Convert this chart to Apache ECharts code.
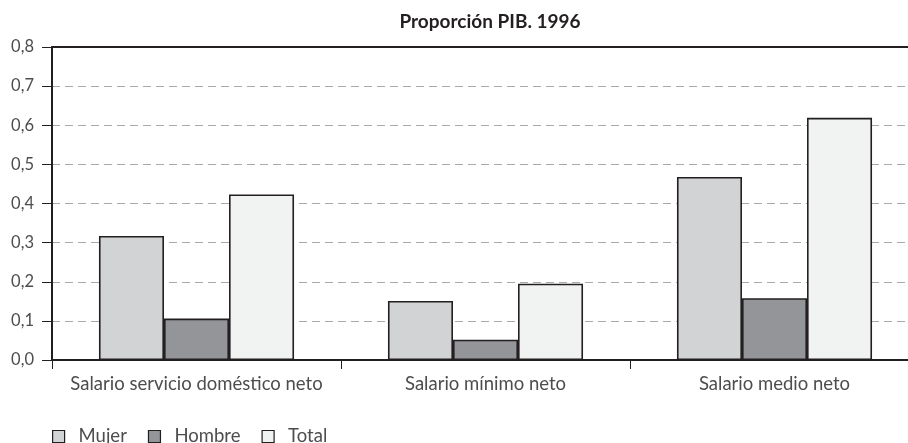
<!DOCTYPE html>
<html>
<head>
<meta charset="utf-8">
<script src="https://cdn.jsdelivr.net/npm/echarts@6/dist/echarts.min.js"></script>
<style>
  html, body { margin: 0; padding: 0; background: #fff; }
  #chart { width: 908px; height: 443px; }
</style>
</head>
<body>
<div id="chart"></div>
<script>
// Proporción del PIB per cápita, 1996
const categories = ['Salario servicio doméstico neto', 'Salario mínimo neto', 'Salario medio neto'];
const mujer  = [0.317, 0.151, 0.468];
const hombre = [0.106, 0.052, 0.158];
const total  = [0.423, 0.195, 0.619];
const yTicks = [0, 0.1, 0.2, 0.3, 0.4, 0.5, 0.6, 0.7, 0.8];

const FONT = 'Lato';
const INK = '#231f20';
const chart = echarts.init(document.getElementById('chart'), null, { renderer: 'canvas' });

function barSeries(name, data, color) {
  return {
    name: name,
    type: 'bar',
    data: data,
    barGap: '0%',
    barCategoryGap: '32.5%',
    itemStyle: { color: color, borderColor: INK, borderWidth: 1.6 },
    emphasis: { disabled: true }
  };
}

chart.setOption({
  animation: false,
  title: {
    text: 'Proporción PIB. 1996',
    left: 485, top: 7, textAlign: 'center',
    textStyle: { fontFamily: FONT, fontSize: 19, fontWeight: 'bold', color: INK }
  },
  grid: { left: 52, width: 867, top: 47, bottom: 83, outerBoundsMode: 'none' },
  legend: {
    left: 47, top: 422,
    itemWidth: 12, itemHeight: 12, itemGap: 21,
    icon: 'rect',
    itemStyle: { borderColor: INK, borderWidth: 1.2 },
    textStyle: { fontFamily: FONT, fontSize: 18.5, color: '#4d4d4f', padding: [0, 0, 0, 9] },
    data: ['Mujer', 'Hombre', 'Total']
  },
  xAxis: [
    {
      type: 'category',
      data: categories,
      axisLine: { lineStyle: { color: INK, width: 2 } },
      axisTick: { show: true, length: 9, lineStyle: { color: INK, width: 1 } },
      axisLabel: { interval: 0, fontFamily: FONT, fontSize: 18.5, color: '#4d4d4f', margin: 15 }
    },
    {
      // top frame line of the plot
      type: 'category',
      position: 'top',
      data: categories,
      axisLine: { show: true, lineStyle: { color: INK, width: 2 } },
      axisTick: { show: false },
      axisLabel: { show: false },
      z: 5
    }
  ],
  yAxis: {
    type: 'value',
    min: yTicks[0], max: yTicks[yTicks.length - 1], interval: 0.1,
    axisLine: { show: true, lineStyle: { color: INK, width: 2 } },
    axisTick: { show: true, length: 10, lineStyle: { color: INK, width: 1 } },
    axisLabel: {
      fontFamily: FONT, fontSize: 16.5, color: '#4d4d4f', margin: 18,
      formatter: v => v.toFixed(1).replace('.', ',')
    },
    splitLine: { lineStyle: { color: '#a7a9ac', type: [8, 5], width: 1 } }
  },
  series: [
    barSeries('Mujer', mujer, '#d1d3d4'),
    barSeries('Hombre', hombre, '#939598'),
    barSeries('Total', total, '#f1f2f2')
  ]
});
</script>
</body>
</html>
